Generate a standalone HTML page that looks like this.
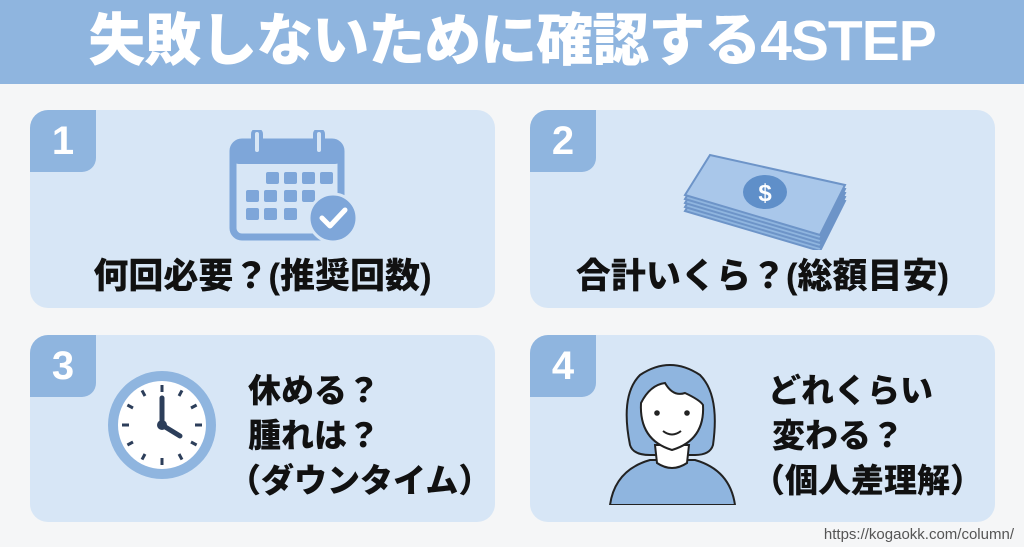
<!DOCTYPE html>
<html><head><meta charset="utf-8"><style>
body{margin:0;width:1024px;height:547px;background:#f5f6f7;position:relative;overflow:hidden;font-family:"Liberation Sans","Noto Sans CJK JP",sans-serif;}
.hdr{position:absolute;left:0;top:0;width:1024px;height:84px;background:#8fb5df;}
.title{position:absolute;left:0;top:0;width:1024px;height:84px;line-height:82px;text-align:center;color:#fff;font-weight:900;font-size:57px;letter-spacing:-1px;}
.card{position:absolute;background:#d7e6f6;border-radius:18px;overflow:hidden;}
.badge{position:absolute;left:0;top:0;width:66px;height:62px;background:#8fb5df;border-bottom-right-radius:14px;color:#fff;font-weight:900;font-size:40px;text-align:center;line-height:62px;}
.t{position:absolute;color:#111;font-weight:900;font-size:35px;white-space:nowrap;}
.s{font-size:33px;}
.url{position:absolute;right:10px;bottom:4px;font-size:15px;color:#555;}
</style></head><body>
<div class="hdr"></div>
<div class="title">失敗しないために確認する4STEP</div>

<div class="card" style="left:30px;top:110px;width:465px;height:198px;">
<div class="badge">1</div>
<svg style="position:absolute;left:168px;top:20px" width="170" height="125" viewBox="0 0 170 125">
<rect x="35" y="12" width="108" height="95" rx="9" fill="none" stroke="#7ea6d9" stroke-width="7"/>
<rect x="35" y="12" width="108" height="22" rx="6" fill="#7ea6d9"/>
<rect x="55" y="0" width="8" height="24" rx="4" fill="#d7e6f6" stroke="#7ea6d9" stroke-width="4"/>
<rect x="117" y="0" width="8" height="24" rx="4" fill="#d7e6f6" stroke="#7ea6d9" stroke-width="4"/>
<g fill="#7ea6d9">
<rect x="68" y="42" width="13" height="12" rx="2"/><rect x="86" y="42" width="13" height="12" rx="2"/><rect x="104" y="42" width="13" height="12" rx="2"/><rect x="122" y="42" width="13" height="12" rx="2"/>
<rect x="48" y="60" width="13" height="12" rx="2"/><rect x="66" y="60" width="13" height="12" rx="2"/><rect x="86" y="60" width="13" height="12" rx="2"/><rect x="104" y="60" width="13" height="12" rx="2"/>
<rect x="48" y="78" width="13" height="12" rx="2"/><rect x="66" y="78" width="13" height="12" rx="2"/><rect x="86" y="78" width="13" height="12" rx="2"/>
</g>
<circle cx="135" cy="88" r="24" fill="#7ea6d9" stroke="#d7e6f6" stroke-width="3"/>
<path d="M124 88 l8 8 l15 -16" fill="none" stroke="#fff" stroke-width="5" stroke-linecap="round" stroke-linejoin="round"/>
</svg>
<div class="t" style="left:0;width:465px;text-align:center;top:138px;">何回必要？(推奨回数)</div>
</div>

<div class="card" style="left:530px;top:110px;width:465px;height:198px;">
<div class="badge">2</div>
<svg style="position:absolute;left:145px;top:30px" width="180" height="110" viewBox="0 0 180 110">
<g stroke="#6d94c8" stroke-width="2" fill="#8fb5df">
<path d="M10 55 L145 95 L170 45 L35 15 Z" transform="translate(0,16)"/>
<path d="M10 55 L145 95 L170 45 L35 15 Z" transform="translate(0,12)"/>
<path d="M10 55 L145 95 L170 45 L35 15 Z" transform="translate(0,8)"/>
<path d="M10 55 L145 95 L170 45 L35 15 Z" transform="translate(0,4)"/>
<path d="M10 55 L145 95 L170 45 L35 15 Z" fill="#a9c7ea"/>
</g>
<ellipse cx="90" cy="52" rx="22" ry="17" fill="#5f8fc9"/>
<text x="90" y="61" text-anchor="middle" font-size="24" font-weight="bold" fill="#fff" font-family="Liberation Sans">$</text>
</svg>
<div class="t" style="left:0;width:465px;text-align:center;top:138px;">合計いくら？(総額目安)</div>
</div>

<div class="card" style="left:30px;top:335px;width:465px;height:187px;">
<div class="badge">3</div>
<svg style="position:absolute;left:72px;top:30px" width="120" height="120" viewBox="0 0 120 120">
<circle cx="60" cy="60" r="54" fill="#8fb5df"/>
<circle cx="60" cy="60" r="44" fill="#fff"/>
<g stroke="#2c3e5a" stroke-width="3">
<line x1="60" y1="20" x2="60" y2="27"/><line x1="60" y1="93" x2="60" y2="100"/><line x1="20" y1="60" x2="27" y2="60"/><line x1="93" y1="60" x2="100" y2="60"/>
<line x1="80" y1="25.4" x2="77" y2="31"/><line x1="94.6" y1="40" x2="89" y2="43"/><line x1="94.6" y1="80" x2="89" y2="77"/><line x1="80" y1="94.6" x2="77" y2="89"/>
<line x1="40" y1="94.6" x2="43" y2="89"/><line x1="25.4" y1="80" x2="31" y2="77"/><line x1="25.4" y1="40" x2="31" y2="43"/><line x1="40" y1="25.4" x2="43" y2="31"/>
</g>
<line x1="60" y1="60" x2="60" y2="33" stroke="#2c3e5a" stroke-width="5" stroke-linecap="round"/>
<line x1="60" y1="60" x2="78" y2="71" stroke="#2c3e5a" stroke-width="5" stroke-linecap="round"/>
<circle cx="60" cy="60" r="5" fill="#2c3e5a"/>
</svg>
<div class="t s" style="left:218px;top:29px;">休める？</div>
<div class="t s" style="left:218px;top:74px;">腫れは？</div>
<div class="t s" style="left:198px;top:119px;">（ダウンタイム）</div>
</div>

<div class="card" style="left:530px;top:335px;width:465px;height:187px;">
<div class="badge">4</div>
<svg style="position:absolute;left:75px;top:20px" width="135" height="150" viewBox="0 0 135 150">
<path d="M5 150 Q10 115 45 105 L90 105 Q125 115 130 150 Z" fill="#8fb5df" stroke="#222" stroke-width="2"/>
<path d="M25 90 Q15 40 35 20 Q65 0 95 20 Q115 40 108 90 Q105 100 90 100 L45 100 Q28 100 25 90 Z" fill="#8fb5df" stroke="#222" stroke-width="2"/>
<path d="M50 90 L52 108 Q67 118 82 108 L84 90 Z" fill="#fff" stroke="#222" stroke-width="2"/>
<path d="M36 48 Q45 30 60 28 Q68 42 80 38 Q95 45 98 50 Q100 85 67 95 Q34 85 36 48 Z" fill="#fff" stroke="#222" stroke-width="2"/>
<circle cx="52" cy="58" r="2.8" fill="#222"/><circle cx="82" cy="58" r="2.8" fill="#222"/>
<path d="M58 76 Q67 83 76 76" fill="none" stroke="#222" stroke-width="2"/>
</svg>
<div class="t s" style="left:238px;top:29px;">どれくらい</div>
<div class="t s" style="left:242px;top:74px;">変わる？</div>
<div class="t s" style="left:222px;top:119px;">（個人差理解）</div>
</div>
<div class="url">https://kogaokk.com/column/</div>
</body></html>
